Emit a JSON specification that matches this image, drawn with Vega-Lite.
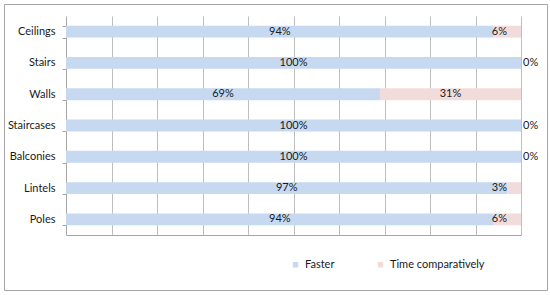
{
  "$schema": "https://vega.github.io/schema/vega-lite/v6.json",
  "autosize": "none",
  "width": 543,
  "height": 286,
  "padding": {"left": 4, "top": 4, "right": 3, "bottom": 5},
  "background": "white",
  "config": {
    "view": {"stroke": "#a6a6a6", "strokeWidth": 1},
    "font": "Lato",
    "text": {"font": "Lato", "fontSize": 11, "color": "#1a1a1a"}
  },
  "data": {
    "values": [
      {"cat": "Ceilings", "series": "Faster", "value": 0.94},
      {"cat": "Ceilings", "series": "Time comparatively", "value": 0.06},
      {"cat": "Stairs", "series": "Faster", "value": 1.0},
      {"cat": "Stairs", "series": "Time comparatively", "value": 0.0},
      {"cat": "Walls", "series": "Faster", "value": 0.69},
      {"cat": "Walls", "series": "Time comparatively", "value": 0.31},
      {"cat": "Staircases", "series": "Faster", "value": 1.0},
      {"cat": "Staircases", "series": "Time comparatively", "value": 0.0},
      {"cat": "Balconies", "series": "Faster", "value": 1.0},
      {"cat": "Balconies", "series": "Time comparatively", "value": 0.0},
      {"cat": "Lintels", "series": "Faster", "value": 0.97},
      {"cat": "Lintels", "series": "Time comparatively", "value": 0.03},
      {"cat": "Poles", "series": "Faster", "value": 0.94},
      {"cat": "Poles", "series": "Time comparatively", "value": 0.06}
    ]
  },
  "encoding": {
    "y": {
      "field": "cat",
      "type": "nominal",
      "sort": ["Ceilings", "Stairs", "Walls", "Staircases", "Balconies", "Lintels", "Poles"],
      "scale": {"range": [12, 231], "paddingInner": 0.62, "paddingOuter": 0.31},
      "axis": {
        "title": null,
        "offset": -62,
        "domainColor": "#a6a6a6",
        "tickColor": "#a6a6a6",
        "tickBand": "extent",
        "tickSize": 4,
        "labelPadding": 7,
        "labelFont": "Lato",
        "labelFontSize": 11,
        "labelColor": "#1a1a1a",
        "grid": false
      }
    }
  },
  "layer": [
    {
      "mark": {"type": "bar"},
      "encoding": {
        "x": {
          "field": "value",
          "type": "quantitative",
          "stack": "zero",
          "scale": {"domain": [0, 1], "range": [62, 517]},
          "axis": {
            "title": null,
            "orient": "bottom",
            "offset": -55,
            "values": [0.1, 0.2, 0.3, 0.4, 0.5, 0.6, 0.7, 0.8, 0.9, 1.0],
            "labels": false,
            "domain": true,
            "domainColor": "#a6a6a6",
            "tickColor": "#bfbfbf",
            "tickSize": -219,
            "grid": false,
            "zindex": 0
          }
        },
        "color": {
          "field": "series",
          "type": "nominal",
          "scale": {"domain": ["Faster", "Time comparatively"], "range": ["#c6d9f1", "#f2dcdb"]},
          "legend": {
            "title": null,
            "orient": "none",
            "direction": "horizontal",
            "legendX": 286,
            "legendY": 255,
            "symbolType": "square",
            "symbolSize": 30,
            "symbolStrokeWidth": 0,
            "labelFont": "Lato",
            "labelFontSize": 11,
            "labelColor": "#1a1a1a",
            "columnPadding": 40
          }
        },
        "order": {"field": "series", "sort": "ascending"}
      }
    },
    {
      "mark": {"type": "text", "align": "center", "baseline": "middle"},
      "encoding": {
        "x": {"field": "value", "type": "quantitative", "stack": "zero", "bandPosition": 0.5},
        "detail": {"field": "series"},
        "order": {"field": "series", "sort": "ascending"},
        "text": {
          "condition": {"test": "datum.series == 'Time comparatively' && datum.value < 0.1", "value": ""},
          "field": "value",
          "type": "quantitative",
          "format": ".0%"
        }
      }
    },
    {
      "transform": [{"filter": "datum.series == 'Time comparatively' && datum.value > 0 && datum.value < 0.1"}],
      "mark": {"type": "text", "align": "right", "baseline": "middle", "dx": -14},
      "encoding": {
        "x": {"datum": 1, "type": "quantitative"},
        "text": {"field": "value", "type": "quantitative", "format": ".0%"}
      }
    },
    {
      "transform": [{"filter": "datum.series == 'Time comparatively' && datum.value == 0"}],
      "mark": {"type": "text", "align": "left", "baseline": "middle", "dx": 2},
      "encoding": {
        "x": {"datum": 1, "type": "quantitative"},
        "text": {"field": "value", "type": "quantitative", "format": ".0%"}
      }
    }
  ]
}
